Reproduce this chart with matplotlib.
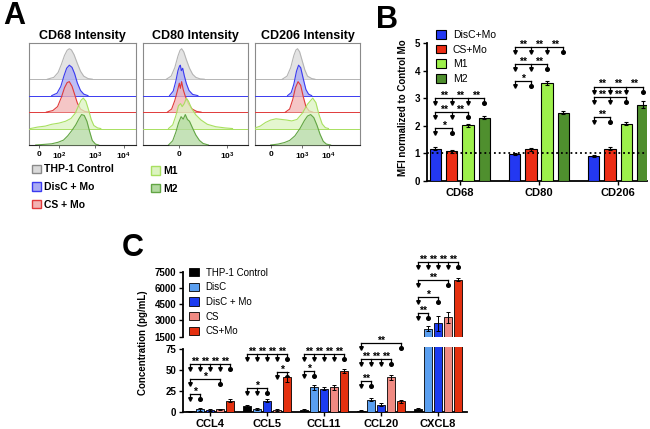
import numpy as np
import matplotlib
matplotlib.use("Agg")
import matplotlib.pyplot as plt
from matplotlib.patches import Patch

plt.rcParams["font.family"] = ["Liberation Sans", "DejaVu Sans"]
plt.rcParams["mathtext.fontset"] = "custom"
plt.rcParams["mathtext.rm"] = "Liberation Sans:bold"
plt.rcParams["mathtext.default"] = "rm"

W, H = 650, 429

# ---------------- Panel A: histogram traces (x = position in box 0-100, h = height / mode)
A_TITLES = ["CD68 Intensity", "CD80 Intensity", "CD206 Intensity"]
A_TICKS = [[9, 28, 61.5, 88.5], [34, 79.5], [15, 45, 70]]
A_TICKLABELS = [["0", "$10^2$", "$10^3$", "$10^4$"], ["0", "$10^3$"], ["0", "$10^3$", "$10^4$"]]
A_NAMES = ["THP-1 Control", "DisC + Mo", "CS + Mo", "M1", "M2"]

CD68_CTRL = [(17, 0), (23, .06), (27, .22), (30, .48), (33, .78), (35.5, .95), (37.5, 1), (39.5, .96), (42, .8), (45, .52), (48, .26), (51, .1), (55, .02), (59, 0)]
CD68_DISC = [(21, 0), (26, .08), (29.5, .3), (32.5, .65), (35, .9), (37.5, 1), (40, .93), (42.5, .72), (45, .42), (48, .17), (51, .05), (55, 0)]
CD68_CS = [(16, 0), (22, .05), (26.5, .18), (30, .48), (33, .8), (35.5, .97), (37.5, 1), (40, .85), (42.5, .58), (45, .3), (48, .1), (52, .02), (56, 0)]
CD68_M1 = [(1, 0), (8, .05), (15, .08), (21, .14), (28, .18), (34, .24), (39, .33), (43, .5), (46, .74), (48.5, .93), (50.6, 1), (53, .9), (55.5, .62), (58, .3), (60.5, .1), (64, .02), (67, 0)]
CD68_M2 = [(6, 0), (14, .02), (21, .04), (27, .09), (32, .16), (36, .3), (40, .48), (43.5, .66), (46.5, .86), (49, 1), (51.5, .97), (54, .78), (56.5, .45), (59, .15), (62, .03), (65, 0)]

CD80_CTRL = [(22, 0), (26.5, .1), (30, .38), (33, .76), (35, .95), (36.5, 1), (38.5, .9), (41, .64), (44, .36), (47, .16), (50, .06), (54, .01), (58, 0)]
CD80_DISC = [(25, 0), (28.5, .15), (31, .48), (33, .82), (34.5, .97), (35.3, 1), (36.2, .82), (37.5, .9), (39, .66), (41, .4), (43.5, .17), (47, .04), (52, 0)]
CD80_CS = [(23, 0), (27, .1), (30, .38), (32.5, .7), (34.3, .95), (35.3, .78), (36.5, 1), (38, .74), (40, .52), (43, .27), (46.5, .1), (51, .02), (55, 0)]
CD80_M1 = [(24, 0), (28, .12), (31, .42), (33.5, .75), (35.5, .82), (37, .72), (39, .82), (41, 1), (43, .9), (46, .66), (50, .45), (55, .28), (61, .14), (69, .06), (78, .02), (85, 0)]
CD80_M2 = [(24, 0), (28, .14), (31, .42), (33.5, .72), (36, .93), (38, .85), (40, 1), (42, .84), (44, .78), (47, .55), (50, .33), (53.5, .15), (57, .05), (62, 0)]

CD206_CTRL = [(26, 0), (30.5, .1), (34, .38), (37, .78), (39, .96), (40.5, 1), (42.5, .9), (45, .6), (47.5, .3), (50, .1), (54, .02), (57, 0)]
CD206_DISC = [(31, 0), (34.5, .1), (37, .38), (39.5, .8), (41.5, 1), (43.5, .92), (46, .55), (48.5, .2), (51, .05), (54, 0)]
CD206_CS = [(29, 0), (33, .1), (36, .42), (38.5, .8), (41, 1), (43.5, .88), (46, .5), (48.5, .18), (51.5, .04), (55, 0)]
CD206_M1 = [(0, .02), (5, .08), (10, .2), (15, .28), (20, .32), (25, .3), (30, .28), (35, .25), (40, .3), (45, .5), (50, .8), (55, 1), (58, .85), (61, .45), (64, .15), (67, .03), (70, 0)]
CD206_M2 = [(15, 0), (22, .03), (28, .08), (33, .15), (38, .3), (43, .55), (47, .8), (50, .95), (53, 1), (56, .9), (59, .65), (62, .35), (65, .12), (68, .03), (72, 0)]

A_CURVES = [
    [CD68_CTRL, CD68_DISC, CD68_CS, CD68_M1, CD68_M2],
    [CD80_CTRL, CD80_DISC, CD80_CS, CD80_M1, CD80_M2],
    [CD206_CTRL, CD206_DISC, CD206_CS, CD206_M1, CD206_M2],
]
A_LINE = ["#b4b4b4", "#3a3af0", "#e03a3a", "#a8e060", "#62a544"]
A_FILL = ["#dadada", "#a9aaf2", "#f2b3b3", "#dcf3c0", "#b2d9a0"]

# ---------------- Panel B: MFI normalized
B_GROUPS = ["CD68", "CD80", "CD206"]
B_NAMES = ["DisC+Mo", "CS+Mo", "M1", "M2"]
B_DISC_MO = [1.17, 0.97, 0.92]
B_CS_MO = [1.07, 1.15, 1.17]
B_M1 = [2.02, 3.55, 2.08]
B_M2 = [2.30, 2.48, 2.77]
B_ERR = [[0.05, 0.04, 0.04], [0.05, 0.06, 0.06], [0.06, 0.07, 0.05], [0.06, 0.07, 0.12]]
B_COLORS = ["#2338f2", "#ec2d15", "#9df04b", "#4f8f2e"]
# (group, bars, height, labels)
B_SIG = [
    (0, [0, 1], 1.91, ["*"]), (0, [0, 1, 2], 2.51, ["**", "**"]), (0, [0, 1, 2, 3], 3.0, ["**", "**", "**"]),
    (1, [0, 1], 3.62, ["*"]), (1, [0, 1, 2], 4.24, ["**", "**"]), (1, [0, 1, 2, 3], 4.84, ["**", "**", "**"]),
    (2, [0, 1], 2.31, ["**"]), (2, [0, 1, 2], 3.05, ["**", "**"]), (2, [0, 1, 2, 3], 3.42, ["**", "**", "**"]),
]

# ---------------- Panel C: cytokine concentration
C_GROUPS = ["CCL4", "CCL5", "CCL11", "CCL20", "CXCL8"]
C_NAMES = ["THP-1 Control", "DisC", "DisC + Mo", "CS", "CS+Mo"]
C_CTRL = [1, 7, 2.5, 2, 4]
C_DISC = [3.5, 4, 30, 15, 2250]
C_DISC_MO = [3, 14, 28, 9, 2750]
C_CS = [3.5, 3, 30, 42, 3300]
C_CS_MO = [14, 42, 49, 13, 6750]
C_ERR = [[0.5, 2, 1, 0.5, 1], [2, 1, 3, 2, 200], [1, 2, 2, 2, 700], [1, 1, 3, 3, 500], [2, 6, 2, 2, 150]]
C_COLORS = ["#000000", "#5a9ff0", "#1c3cf0", "#f08a82", "#e4300f"]
C_SIG_LOW = [
    (0, [0, 1], 22, ["*"]), (0, [0, 3], 40, ["*"]), (0, [0, 1, 2, 3, 4], 57, ["**"] * 4),
    (1, [0, 1, 2], 29, ["*"]), (1, [3, 4], 48, ["*"]), (1, [0, 1, 2, 3, 4], 69, ["**"] * 4),
    (2, [0, 1], 49, ["*"]), (2, [0, 1, 2, 3, 4], 69, ["**"] * 4),
    (3, [0, 1], 37, ["**"]), (3, [0, 1, 2, 3], 63, ["**"] * 3), (3, [0, 4], 82, ["**"]),
]
C_SIG_UP = [
    (4, [0, 1], 3660, ["**"]), (4, [0, 2], 5190, ["*"]), (4, [0, 3], 6730, ["**"]),
    (4, [0, 1, 2, 3, 4], 8420, ["**"] * 4),
]


def px_axes(x0, y0, x1, y1):
    return [x0 / W, 1 - y1 / H, (x1 - x0) / W, (y1 - y0) / H]


def bracket(ax, xs, y, labels, drop, fs=7.5):
    kw = dict(color="k", lw=0.9, clip_on=False)
    ax.plot([xs[0], xs[-1]], [y, y], **kw)
    for i, x in enumerate(xs):
        ax.plot([x, x], [y, y - drop], **kw)
        mk = "o" if i == len(xs) - 1 else "v"
        ax.plot(x, y - drop, marker=mk, ms=2.6, color="k", clip_on=False)
    if len(labels) == len(xs) - 1:
        mids = [(a + b) / 2 for a, b in zip(xs[:-1], xs[1:])]
    else:
        mids = [(xs[0] + xs[-1]) / 2]
    for m, lab in zip(mids, labels):
        ax.text(m, y - drop * 0.55, lab, ha="center", va="bottom", fontsize=fs,
                fontweight="bold", clip_on=False)


fig = plt.figure(figsize=(W / 100, H / 100), dpi=100)

# ---------------- A
A_BOXES = [(29.3, 43.3, 136, 145), (143.3, 43.3, 248.3, 145), (255, 43.3, 360, 145)]
for k in range(3):
    ax = fig.add_axes(px_axes(*A_BOXES[k]))
    for j in range(5):
        base = 4 - j
        pts = np.array(A_CURVES[k][j], dtype=float)
        yy = base + pts[:, 1] * 1.85
        ax.axhline(base, color=A_LINE[j], lw=0.7, zorder=2 + j)
        ax.fill_between(pts[:, 0], base, yy, color=A_FILL[j], alpha=0.75, lw=0, zorder=2 + j)
        ax.plot(pts[:, 0], yy, color=A_LINE[j], lw=0.8, zorder=2 + j)
    ax.set_xlim(0, 100)
    ax.set_ylim(0, 6.18)
    ax.set_yticks([])
    ax.set_xticks(A_TICKS[k])
    ax.set_xticklabels(A_TICKLABELS[k], fontsize=6, fontweight="bold")
    ax.tick_params(axis="x", length=2, width=0.6, pad=2, color="#555555")
    for s in ax.spines.values():
        s.set_color("#8a8a8a")
        s.set_linewidth(0.8)
    ax.spines["bottom"].set_color("#222222")
    ax.set_title(A_TITLES[k], fontsize=9, fontweight="bold", pad=3)

hA1 = [Patch(facecolor=A_FILL[j], edgecolor=A_LINE[j] if j else "#8a8a8a", lw=1) for j in range(3)]
hA2 = [Patch(facecolor=A_FILL[j], edgecolor=A_LINE[j], lw=1) for j in (3, 4)]
legA = dict(loc="upper left", frameon=False, borderpad=0, borderaxespad=0,
            handlelength=0.85, handleheight=0.85, handletextpad=0.35, labelspacing=0.72,
            prop=dict(size=7.5, weight="bold"))
fig.legend(hA1, A_NAMES[:3], bbox_to_anchor=(32 / W, 1 - 164.5 / H), **legA)
fig.legend(hA2, A_NAMES[3:], bbox_to_anchor=(151 / W, 1 - 166 / H), **legA)

# ---------------- B
axB = fig.add_axes(px_axes(427, 43, 647, 181))
b_vals = [B_DISC_MO, B_CS_MO, B_M1, B_M2]
xg = np.arange(len(B_GROUPS))
b_off = 0.206
for i in range(4):
    xs = xg + (i - 1.5) * b_off
    axB.bar(xs, b_vals[i], width=0.145, color=B_COLORS[i], edgecolor="k", lw=0.8,
            yerr=B_ERR[i], capsize=1.5, error_kw=dict(lw=0.8, capthick=0.8), zorder=3)
axB.axhline(1, color="k", ls=":", lw=1.3, zorder=4)
for g, idx, y, labs in B_SIG:
    bracket(axB, [g + (i - 1.5) * b_off for i in idx], y, labs, 0.18)
axB.set_xlim(-0.415, 2.365)
axB.set_ylim(0, 5)
axB.set_yticks(range(6))
axB.set_xticks(xg)
axB.set_xticklabels(B_GROUPS, fontsize=8, fontweight="bold")
for t in axB.get_yticklabels():
    t.set_fontsize(7)
    t.set_fontweight("bold")
axB.tick_params(length=3, width=1, pad=2)
for s in ("top", "right"):
    axB.spines[s].set_visible(False)
for s in ("left", "bottom"):
    axB.spines[s].set_linewidth(1.3)
axB.legend([Patch(facecolor=c, edgecolor="k", lw=0.8) for c in B_COLORS], B_NAMES,
           loc="upper left", bbox_to_anchor=(436 / W, 1 - 30 / H), bbox_transform=fig.transFigure,
           frameon=False, borderpad=0, borderaxespad=0, handlelength=1.0, handleheight=0.9,
           handletextpad=0.6, labelspacing=0.45, fontsize=7.5)
fig.text(403 / W, 1 - 108 / H, "MFI normalized to Control Mo", rotation=90,
         ha="center", va="center", fontsize=7, fontweight="bold")

# ---------------- C
axU = fig.add_axes(px_axes(183, 255.4, 467, 336.7))
axL = fig.add_axes(px_axes(183, 346.8, 467, 412.3))
c_vals = [C_CTRL, C_DISC, C_DISC_MO, C_CS, C_CS_MO]
xc = np.arange(len(C_GROUPS))
c_off = 0.175
for i in range(5):
    xs = xc + (i - 2) * c_off
    ekw = dict(lw=0.7, capthick=0.7)
    axL.bar(xs, c_vals[i], width=0.13, color=C_COLORS[i], edgecolor="k", lw=0.6,
            yerr=C_ERR[i], capsize=1.2, error_kw=ekw, zorder=3)
    axU.bar(xs[-1:], c_vals[i][-1:], width=0.13, color=C_COLORS[i], edgecolor="k", lw=0.6,
            yerr=C_ERR[i][-1:], capsize=1.2, error_kw=ekw, zorder=3)
for g, idx, y, labs in C_SIG_LOW:
    bracket(axL, [g + (i - 2) * c_off for i in idx], y, labs, 6)
for g, idx, y, labs in C_SIG_UP:
    bracket(axU, [g + (i - 2) * c_off for i in idx], y, labs, 460)

for ax in (axU, axL):
    ax.set_xlim(-0.474, 4.51)
    ax.set_facecolor("none")
    for s in ("top", "right"):
        ax.spines[s].set_visible(False)
    ax.spines["left"].set_linewidth(1.3)
    ax.tick_params(length=3, width=1, pad=2)
axU.set_ylim(1500, 9000)
axU.spines["left"].set_bounds(1500, 7500)
axU.spines["bottom"].set_visible(False)
axU.set_yticks([1500, 3000, 4500, 6000, 7500])
axU.set_xticks([])
axL.set_ylim(0, 78)
axL.spines["left"].set_bounds(0, 75)
axL.spines["bottom"].set_linewidth(1.3)
axL.set_yticks([0, 25, 50, 75])
axL.set_xticks(xc)
axL.set_xticklabels(C_GROUPS, fontsize=8, fontweight="bold")
for ax in (axU, axL):
    for t in ax.get_yticklabels():
        t.set_fontsize(7)
        t.set_fontweight("bold")

axU.legend([Patch(facecolor=c, edgecolor="k", lw=0.6) for c in C_COLORS], C_NAMES,
           loc="upper left", bbox_to_anchor=(189 / W, 1 - 267.5 / H), bbox_transform=fig.transFigure,
           frameon=False, borderpad=0, borderaxespad=0, handlelength=1.0, handleheight=0.9,
           handletextpad=0.7, labelspacing=0.48, fontsize=7)
fig.text(143 / W, 1 - 343 / H, "Concentration (pg/mL)", rotation=90,
         ha="center", va="center", fontsize=7, fontweight="bold")

# panel letters
for lab, x, y in (("A", 14.5, 15.5), ("B", 387, 20), ("C", 133, 248)):
    fig.text(x / W, 1 - y / H, lab, fontsize=22, fontweight="bold", ha="center", va="center")

fig.savefig("out.png", dpi=100)
